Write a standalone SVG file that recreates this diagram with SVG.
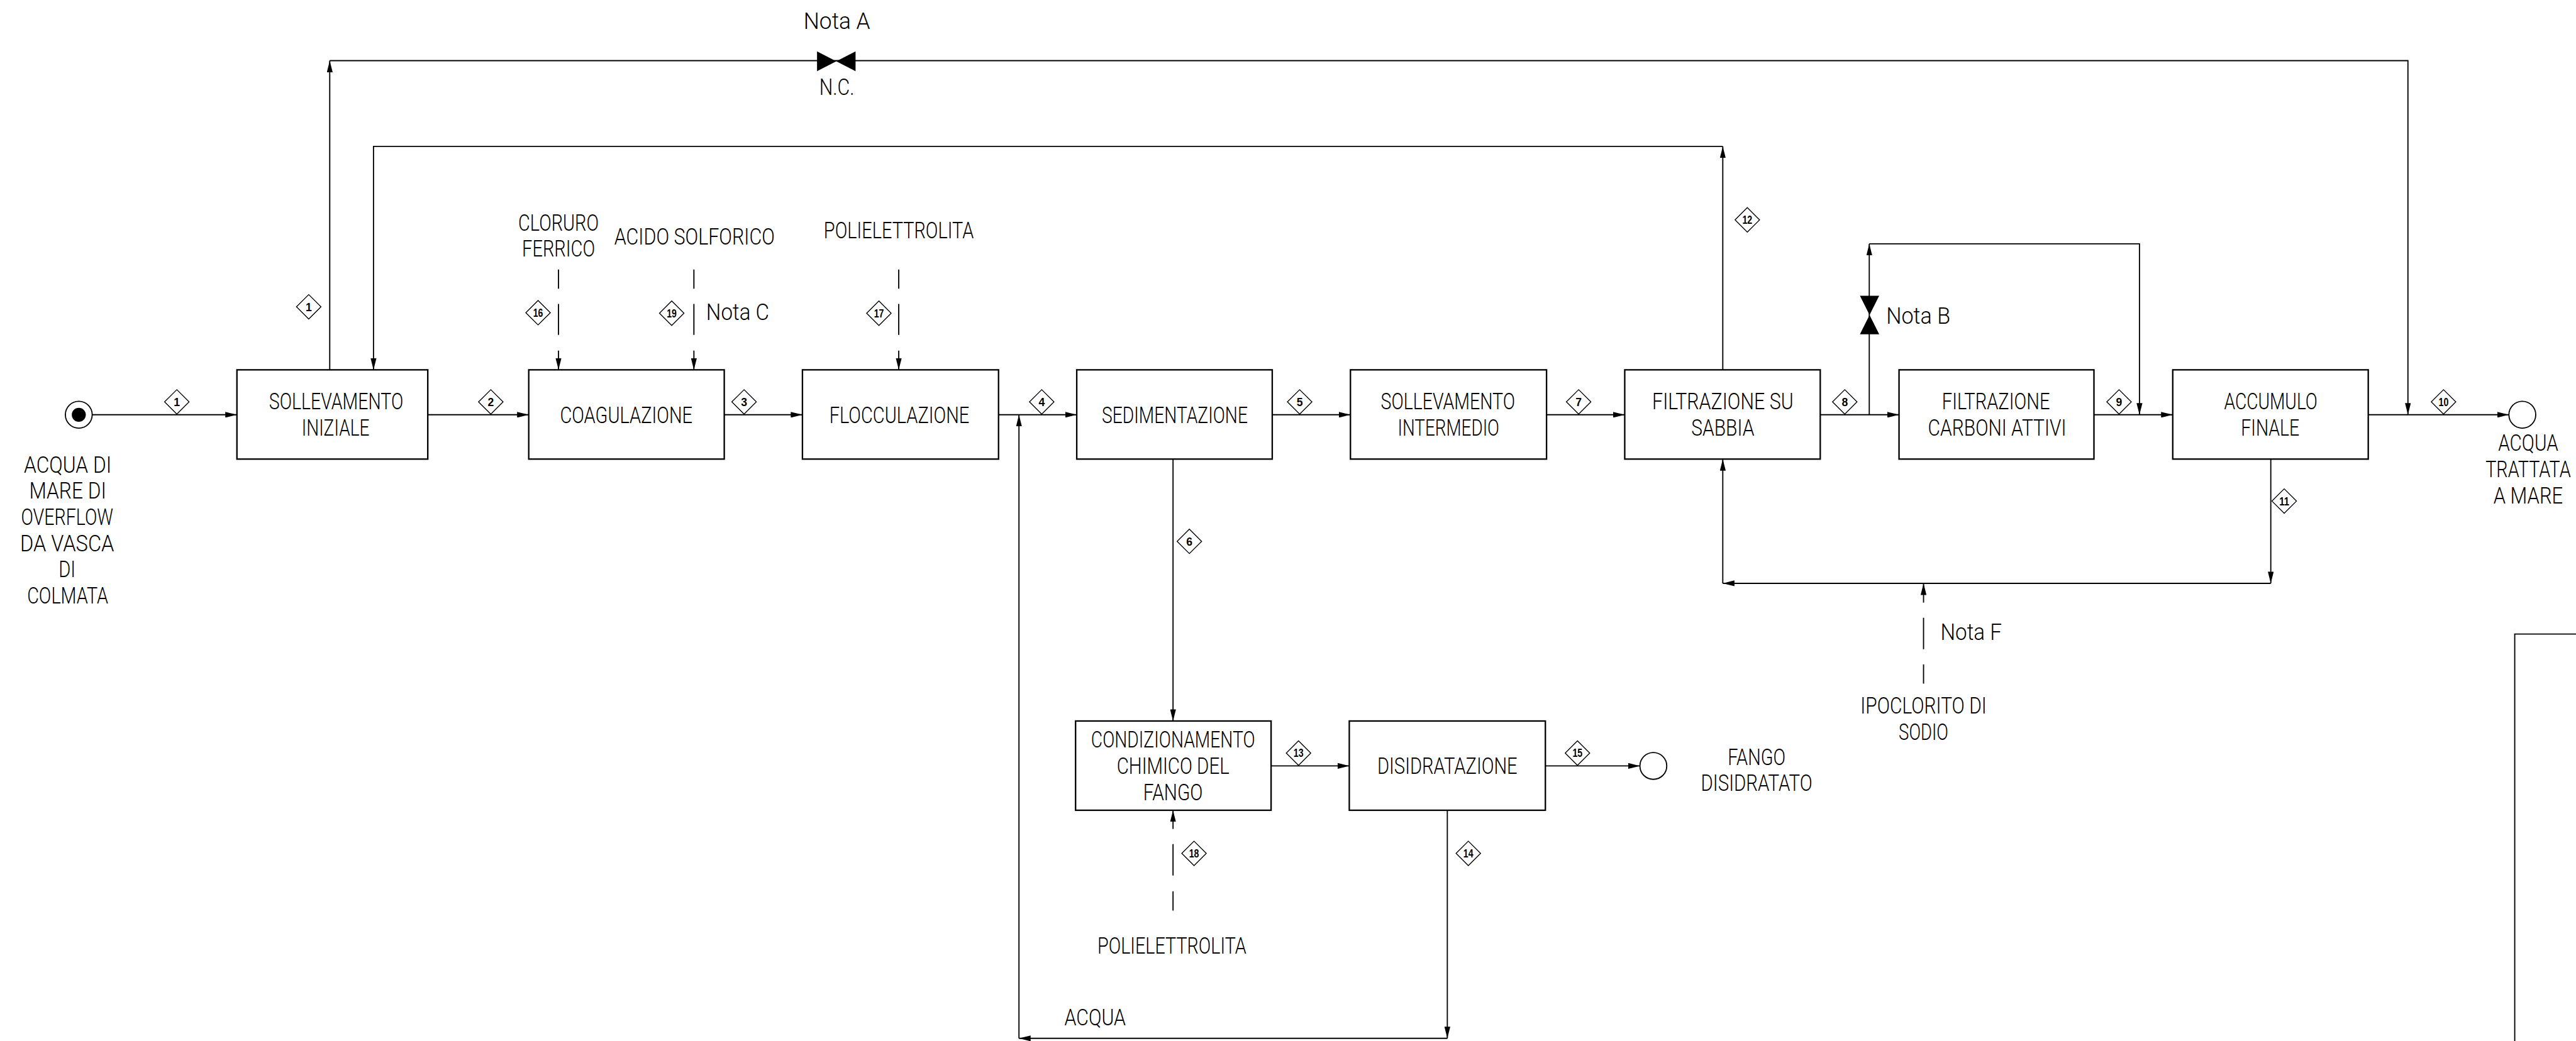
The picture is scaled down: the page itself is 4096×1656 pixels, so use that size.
<svg xmlns="http://www.w3.org/2000/svg" width="4096" height="1656" viewBox="0 0 4096 1656">
<defs>
<style>
.ln{stroke:#000;stroke-width:2;fill:none}
.bx{fill:#fff;stroke:#000;stroke-width:2.5}
.t{font-family:Roboto,"Liberation Sans",Arial,sans-serif;font-weight:300;font-size:39px;fill:#000;text-anchor:middle}
.ts{font-family:Roboto,"Liberation Sans",Arial,sans-serif;font-weight:300;font-size:39px;fill:#000;text-anchor:start}
.dm{fill:#fff;stroke:#000;stroke-width:1.5}
.dn{font-family:"Liberation Sans",Arial,sans-serif;font-size:19px;font-weight:bold;fill:#000;text-anchor:middle}
</style>
<marker id="ar" viewBox="0 0 20 10" refX="20" refY="5" markerWidth="20" markerHeight="10" markerUnits="userSpaceOnUse" orient="auto">
<path d="M0,0 L20,5 L0,10 z" fill="#000"/>
</marker>
<path id="dia" d="M0,-21 L21,0 L0,21 L-21,0 z" class="dm"/>
</defs>
<rect width="4096" height="1656" fill="#fff"/>
<g transform="scale(0.92796)">

<g id="connectors" class="ln">
<path d="M158,711 H406" marker-end="url(#ar)"/>
<path d="M733,711 H906" marker-end="url(#ar)"/>
<path d="M1241,711 H1375" marker-end="url(#ar)"/>
<path d="M1711,711 H1845" marker-end="url(#ar)"/>
<path d="M2180,711 H2314" marker-end="url(#ar)"/>
<path d="M2650,711 H2784" marker-end="url(#ar)"/>
<path d="M3119,711 H3254" marker-end="url(#ar)"/>
<path d="M3588,711 H3723" marker-end="url(#ar)"/>
<path d="M4058,711 H4299" marker-end="url(#ar)"/>
<path d="M565,634 V104" marker-end="url(#ar)"/>
<path d="M565,104 H4126 V711" marker-end="url(#ar)"/>
<path d="M2952,634 V251" marker-end="url(#ar)"/>
<path d="M2952,251 H640 V634" marker-end="url(#ar)"/>
<path d="M3203,711 V418" marker-end="url(#ar)"/>
<path d="M3203,418 H3666 V711" marker-end="url(#ar)"/>
<path d="M957,462 V495 M957,521 V574"/>
<path d="M957,601 V634" marker-end="url(#ar)"/>
<path d="M1189,462 V495 M1189,521 V574"/>
<path d="M1189,601 V634" marker-end="url(#ar)"/>
<path d="M1540,462 V495 M1540,521 V574"/>
<path d="M1540,601 V634" marker-end="url(#ar)"/>
<path d="M2010,787 V1236" marker-end="url(#ar)"/>
<path d="M2178,1313 H2312" marker-end="url(#ar)"/>
<path d="M2648,1313 H2810" marker-end="url(#ar)"/>
<path d="M2480,1389 V1780" marker-end="url(#ar)"/>
<path d="M2480,1780 H1746" marker-end="url(#ar)"/>
<path d="M1746,1780 V711" marker-end="url(#ar)"/>
<path d="M2010,1421 V1389" marker-end="url(#ar)"/>
<path d="M2010,1447 V1501 M2010,1528 V1561"/>
<path d="M3891,787 V1000" marker-end="url(#ar)"/>
<path d="M3891,1000 H2952" marker-end="url(#ar)"/>
<path d="M2952,1000 V787" marker-end="url(#ar)"/>
<path d="M3296,1033 V1000" marker-end="url(#ar)"/>
<path d="M3296,1059 V1113 M3296,1139 V1172"/>
</g>

<path id="frame" d="M4309,1785 V1087 H4414" class="ln"/>

<g id="valveA">
<path d="M1400,88 L1466,122 L1466,88 L1400,122 z" fill="#000"/>
<text class="t" x="1434" y="50" textLength="114" lengthAdjust="spacingAndGlyphs">Nota A</text>
<text class="t" x="1434" y="163" textLength="60" lengthAdjust="spacingAndGlyphs">N.C.</text>
</g>
<g id="valveB">
<path d="M3187,507 L3220,573 L3187,573 L3220,507 z" fill="#000"/>
<text class="ts" x="3232" y="555" textLength="110" lengthAdjust="spacingAndGlyphs">Nota B</text>
</g>

<g id="source">
<circle cx="135" cy="711" r="23" class="ln" fill="#fff"/>
<circle cx="135" cy="711" r="12" fill="#000"/>
<text class="t" x="116" y="810" textLength="150" lengthAdjust="spacingAndGlyphs">ACQUA DI</text>
<text class="t" x="116" y="855" textLength="132" lengthAdjust="spacingAndGlyphs">MARE DI</text>
<text class="t" x="115" y="900" textLength="158" lengthAdjust="spacingAndGlyphs">OVERFLOW</text>
<text class="t" x="115" y="945" textLength="161" lengthAdjust="spacingAndGlyphs">DA VASCA</text>
<text class="t" x="115" y="989" textLength="29" lengthAdjust="spacingAndGlyphs">DI</text>
<text class="t" x="116" y="1035" textLength="139" lengthAdjust="spacingAndGlyphs">COLMATA</text>
</g>

<g id="n1">
<rect x="406" y="634" width="327" height="153" class="bx"/>
<text class="t" x="576" y="702" textLength="230" lengthAdjust="spacingAndGlyphs">SOLLEVAMENTO</text>
<text class="t" x="575" y="747" textLength="116" lengthAdjust="spacingAndGlyphs">INIZIALE</text>
</g>
<g id="n2">
<rect x="906" y="634" width="335" height="153" class="bx"/>
<text class="t" x="1073" y="725" textLength="227" lengthAdjust="spacingAndGlyphs">COAGULAZIONE</text>
</g>
<g id="n3">
<rect x="1375" y="634" width="336" height="153" class="bx"/>
<text class="t" x="1541" y="725" textLength="240" lengthAdjust="spacingAndGlyphs">FLOCCULAZIONE</text>
</g>
<g id="n4">
<rect x="1845" y="634" width="335" height="153" class="bx"/>
<text class="t" x="2013" y="725" textLength="250" lengthAdjust="spacingAndGlyphs">SEDIMENTAZIONE</text>
</g>
<g id="n5">
<rect x="2314" y="634" width="336" height="153" class="bx"/>
<text class="t" x="2481" y="702" textLength="230" lengthAdjust="spacingAndGlyphs">SOLLEVAMENTO</text>
<text class="t" x="2482" y="747" textLength="174" lengthAdjust="spacingAndGlyphs">INTERMEDIO</text>
</g>
<g id="n6">
<rect x="2784" y="634" width="335" height="153" class="bx"/>
<text class="t" x="2952" y="702" textLength="242" lengthAdjust="spacingAndGlyphs">FILTRAZIONE SU</text>
<text class="t" x="2952" y="747" textLength="108" lengthAdjust="spacingAndGlyphs">SABBIA</text>
</g>
<g id="n7">
<rect x="3254" y="634" width="334" height="153" class="bx"/>
<text class="t" x="3420" y="702" textLength="185" lengthAdjust="spacingAndGlyphs">FILTRAZIONE</text>
<text class="t" x="3422" y="747" textLength="237" lengthAdjust="spacingAndGlyphs">CARBONI ATTIVI</text>
</g>
<g id="n8">
<rect x="3723" y="634" width="335" height="153" class="bx"/>
<text class="t" x="3891" y="702" textLength="160" lengthAdjust="spacingAndGlyphs">ACCUMULO</text>
<text class="t" x="3890" y="747" textLength="100" lengthAdjust="spacingAndGlyphs">FINALE</text>
</g>
<g id="n9">
<rect x="1843" y="1236" width="335" height="153" class="bx"/>
<text class="t" x="2010" y="1281" textLength="281" lengthAdjust="spacingAndGlyphs">CONDIZIONAMENTO</text>
<text class="t" x="2010" y="1327" textLength="193" lengthAdjust="spacingAndGlyphs">CHIMICO DEL</text>
<text class="t" x="2010" y="1372" textLength="102" lengthAdjust="spacingAndGlyphs">FANGO</text>
</g>
<g id="n10">
<rect x="2312" y="1236" width="336" height="153" class="bx"/>
<text class="t" x="2480" y="1327" textLength="240" lengthAdjust="spacingAndGlyphs">DISIDRATAZIONE</text>
</g>

<g id="outWater">
<circle cx="4322" cy="711" r="23" class="ln" fill="#fff"/>
<text class="t" x="4332" y="773" textLength="103" lengthAdjust="spacingAndGlyphs">ACQUA</text>
<text class="t" x="4332" y="818" textLength="146" lengthAdjust="spacingAndGlyphs">TRATTATA</text>
<text class="t" x="4332" y="863" textLength="119" lengthAdjust="spacingAndGlyphs">A MARE</text>
</g>
<g id="outSludge">
<circle cx="2833" cy="1313" r="23" class="ln" fill="#fff"/>
<text class="t" x="3010" y="1311" textLength="99" lengthAdjust="spacingAndGlyphs">FANGO</text>
<text class="t" x="3010" y="1356" textLength="191" lengthAdjust="spacingAndGlyphs">DISIDRATATO</text>
</g>

<g id="reagent16">
<text class="t" x="957" y="396" textLength="138" lengthAdjust="spacingAndGlyphs">CLORURO</text>
<text class="t" x="957" y="440" textLength="125" lengthAdjust="spacingAndGlyphs">FERRICO</text>
</g>
<g id="reagent19">
<text class="t" x="1190" y="419" textLength="275" lengthAdjust="spacingAndGlyphs">ACIDO SOLFORICO</text>
<text class="ts" x="1210" y="549" textLength="108" lengthAdjust="spacingAndGlyphs">Nota C</text>
</g>
<g id="reagent17">
<text class="t" x="1540" y="408" textLength="257" lengthAdjust="spacingAndGlyphs">POLIELETTROLITA</text>
</g>
<g id="reagent18">
<text class="t" x="2008" y="1635" textLength="255" lengthAdjust="spacingAndGlyphs">POLIELETTROLITA</text>
</g>
<g id="reagentF">
<text class="ts" x="3325" y="1097" textLength="105" lengthAdjust="spacingAndGlyphs">Nota F</text>
<text class="t" x="3296" y="1223" textLength="216" lengthAdjust="spacingAndGlyphs">IPOCLORITO DI</text>
<text class="t" x="3296" y="1268" textLength="85" lengthAdjust="spacingAndGlyphs">SODIO</text>
</g>
<g id="acquaLabel">
<text class="ts" x="1824" y="1758" textLength="105" lengthAdjust="spacingAndGlyphs">ACQUA</text>
</g>

<g id="streams">
<g transform="translate(303,689)"><use href="#dia"/><text class="dn" y="7">1</text></g>
<g transform="translate(529,526)"><use href="#dia"/><text class="dn" y="7">1</text></g>
<g transform="translate(841,689)"><use href="#dia"/><text class="dn" y="7">2</text></g>
<g transform="translate(1275,689)"><use href="#dia"/><text class="dn" y="7">3</text></g>
<g transform="translate(1785,689)"><use href="#dia"/><text class="dn" y="7">4</text></g>
<g transform="translate(2227,689)"><use href="#dia"/><text class="dn" y="7">5</text></g>
<g transform="translate(2038,928)"><use href="#dia"/><text class="dn" y="7">6</text></g>
<g transform="translate(2705,689)"><use href="#dia"/><text class="dn" y="7">7</text></g>
<g transform="translate(3161,689)"><use href="#dia"/><text class="dn" y="7">8</text></g>
<g transform="translate(3631,689)"><use href="#dia"/><text class="dn" y="7">9</text></g>
<g transform="translate(4187,689)"><use href="#dia"/><text class="dn" y="7" textLength="17" lengthAdjust="spacingAndGlyphs">10</text></g>
<g transform="translate(3914,859)"><use href="#dia"/><text class="dn" y="7" textLength="17" lengthAdjust="spacingAndGlyphs">11</text></g>
<g transform="translate(2994,377)"><use href="#dia"/><text class="dn" y="7" textLength="17" lengthAdjust="spacingAndGlyphs">12</text></g>
<g transform="translate(2225,1291)"><use href="#dia"/><text class="dn" y="7" textLength="17" lengthAdjust="spacingAndGlyphs">13</text></g>
<g transform="translate(2516,1463)"><use href="#dia"/><text class="dn" y="7" textLength="17" lengthAdjust="spacingAndGlyphs">14</text></g>
<g transform="translate(2703,1291)"><use href="#dia"/><text class="dn" y="7" textLength="17" lengthAdjust="spacingAndGlyphs">15</text></g>
<g transform="translate(922,536)"><use href="#dia"/><text class="dn" y="7" textLength="17" lengthAdjust="spacingAndGlyphs">16</text></g>
<g transform="translate(1506,537)"><use href="#dia"/><text class="dn" y="7" textLength="17" lengthAdjust="spacingAndGlyphs">17</text></g>
<g transform="translate(2046,1463)"><use href="#dia"/><text class="dn" y="7" textLength="17" lengthAdjust="spacingAndGlyphs">18</text></g>
<g transform="translate(1151,537)"><use href="#dia"/><text class="dn" y="7" textLength="17" lengthAdjust="spacingAndGlyphs">19</text></g>
</g>

</g>
</svg>
